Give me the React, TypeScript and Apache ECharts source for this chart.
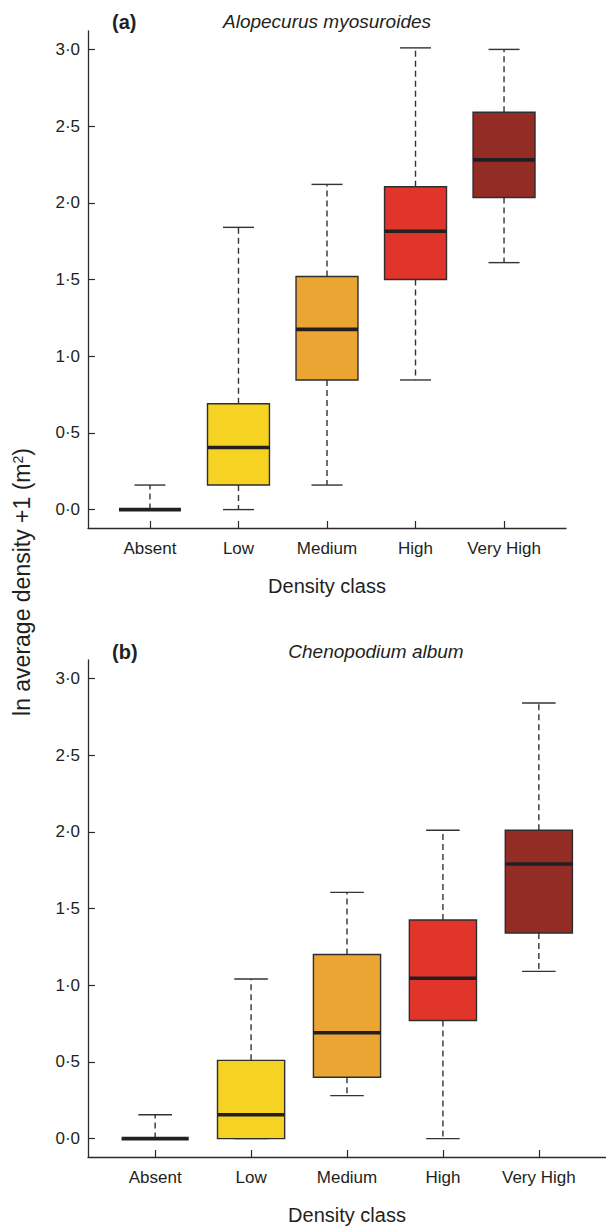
import { useEffect, useRef } from 'react';
import * as echarts from 'echarts';

const categories = ['Absent', 'Low', 'Medium', 'High', 'Very High'];
const positions = [1, 2, 3, 4, 5];
const yTicks = [0, 0.5, 1, 1.5, 2, 2.5, 3];
const boxColors = ['#ffffff', '#F6D322', '#EBA533', '#E1352B', '#932C25'];

// (a) Alopecurus myosuroides
const aMin = [0, 0, 0.16, 0.845, 1.61];
const aQ1 = [0, 0.16, 0.845, 1.5, 2.035];
const aMed = [0, 0.405, 1.175, 1.815, 2.28];
const aQ3 = [0, 0.69, 1.52, 2.105, 2.59];
const aMax = [0.16, 1.84, 2.12, 3.01, 3.0];

// (b) Chenopodium album
const bMin = [0, 0, 0.28, 0, 1.09];
const bQ1 = [0, 0, 0.4, 0.77, 1.34];
const bMed = [0, 0.155, 0.69, 1.045, 1.79];
const bQ3 = [0, 0.51, 1.2, 1.425, 2.01];
const bMax = [0.155, 1.04, 1.605, 2.01, 2.84];

const FONT = 'Liberation Sans, Arial, Helvetica, sans-serif';
const INK = '#231f20';
const LINE = '#333333';

function buildData(mins: number[], q1s: number[], meds: number[], q3s: number[], maxs: number[]) {
  return positions.map((p, i) => [p, mins[i], q1s[i], meds[i], q3s[i], maxs[i]]);
}

const renderBox = (params: any, api: any) => {
  const x = api.value(0);
  const mn = api.value(1);
  const q1 = api.value(2);
  const md = api.value(3);
  const q3 = api.value(4);
  const mx = api.value(5);
  const w = api.size([0.7, 0])[0];
  const cw = w / 2;
  const pMin = api.coord([x, mn]);
  const pQ1 = api.coord([x, q1]);
  const pMed = api.coord([x, md]);
  const pQ3 = api.coord([x, q3]);
  const pMax = api.coord([x, mx]);
  const cx = pMin[0];
  const color = boxColors[params.dataIndex];
  const whisk = { stroke: LINE, lineWidth: 1.4, lineDash: [6, 4] };
  const cap = { stroke: LINE, lineWidth: 1.4 };
  const children: any[] = [];
  if (mx > q3) {
    children.push({ type: 'line', shape: { x1: cx, y1: pQ3[1], x2: cx, y2: pMax[1] }, style: whisk });
  }
  if (mn < q1) {
    children.push({ type: 'line', shape: { x1: cx, y1: pQ1[1], x2: cx, y2: pMin[1] }, style: whisk });
  }
  children.push({ type: 'line', shape: { x1: cx - cw / 2, y1: pMax[1], x2: cx + cw / 2, y2: pMax[1] }, style: cap });
  children.push({ type: 'line', shape: { x1: cx - cw / 2, y1: pMin[1], x2: cx + cw / 2, y2: pMin[1] }, style: cap });
  if (q3 > q1) {
    children.push({
      type: 'rect',
      shape: { x: cx - w / 2, y: pQ3[1], width: w, height: pQ1[1] - pQ3[1] },
      style: { fill: color, stroke: '#2e2e2e', lineWidth: 1.4 },
    });
  }
  children.push({ type: 'line', shape: { x1: cx - w / 2, y1: pMed[1], x2: cx + w / 2, y2: pMed[1] }, style: { stroke: INK, lineWidth: 3.6 } });
  return { type: 'group', children };
};

function xAxisCfg(gridIndex: number) {
  return {
    gridIndex,
    type: 'value',
    min: 0.3,
    max: 5.7,
    splitLine: { show: false },
    axisLine: { show: true, onZero: false, lineStyle: { color: '#2b2b2b', width: 1.3 } },
    axisTick: { show: true, inside: true, length: 7, customValues: positions, lineStyle: { color: '#2b2b2b', width: 1.2 } },
    axisLabel: {
      customValues: positions,
      formatter: (v: number) => categories[Math.round(v) - 1],
      fontSize: 17,
      color: INK,
      fontFamily: FONT,
      margin: 12,
    },
    name: 'Density class',
    nameLocation: 'middle',
    nameGap: 48,
    nameTextStyle: { fontSize: 20, color: INK, fontFamily: FONT },
  };
}

function yAxisCfg(gridIndex: number) {
  return {
    gridIndex,
    type: 'value',
    min: -0.12,
    max: 3.12,
    splitLine: { show: false },
    axisLine: { show: true, onZero: false, lineStyle: { color: '#2b2b2b', width: 1.3 } },
    axisTick: { show: true, inside: true, length: 7, customValues: yTicks, lineStyle: { color: '#2b2b2b', width: 1.2 } },
    axisLabel: {
      customValues: yTicks,
      formatter: (v: number) => v.toFixed(1).replace('.', '\u00B7'),
      fontSize: 17,
      color: INK,
      fontFamily: FONT,
      margin: 8,
    },
  };
}

function txt(text: string, x: number, y: number, size: number, opts: any = {}) {
  return {
    type: 'text',
    x,
    y,
    rotation: opts.rotation || 0,
    style: {
      text,
      x: 0,
      y: 0,
      fill: INK,
      font: `${opts.style || 'normal'} ${opts.weight || 'normal'} ${size}px ${FONT}`,
      fontSize: size,
      fontFamily: FONT,
      fontStyle: opts.style || 'normal',
      fontWeight: opts.weight || 'normal',
      align: opts.align || 'center',
      verticalAlign: 'middle',
      textAlign: opts.align || 'center',
      textVerticalAlign: 'middle',
      rich: opts.rich,
    },
  };
}

export default function App() {
  const ref = useRef<HTMLDivElement>(null);
  useEffect(() => {
    if (!ref.current) return;
    const chart = echarts.init(ref.current, undefined, { renderer: 'svg' });
    chart.setOption({
      animation: false,
      backgroundColor: '#ffffff',
      grid: [
        { left: 88, top: 31, width: 478, height: 497 },
        { left: 88, top: 660, width: 523, height: 497 },
      ],
      xAxis: [xAxisCfg(0), xAxisCfg(1)],
      yAxis: [yAxisCfg(0), yAxisCfg(1)],
      series: [
        {
          type: 'custom',
          name: 'Alopecurus myosuroides',
          xAxisIndex: 0,
          yAxisIndex: 0,
          renderItem: renderBox,
          encode: { x: 0, y: [1, 2, 3, 4, 5] },
          data: buildData(aMin, aQ1, aMed, aQ3, aMax),
        },
        {
          type: 'custom',
          name: 'Chenopodium album',
          xAxisIndex: 1,
          yAxisIndex: 1,
          renderItem: renderBox,
          encode: { x: 0, y: [1, 2, 3, 4, 5] },
          data: buildData(bMin, bQ1, bMed, bQ3, bMax),
        },
      ],
      graphic: [
        txt('(a)', 112, 22, 20, { weight: 'bold', align: 'left' }),
        txt('Alopecurus myosuroides', 327, 21, 19, { style: 'italic' }),
        txt('(b)', 112, 652, 20, { weight: 'bold', align: 'left' }),
        txt('Chenopodium album', 376, 651, 19, { style: 'italic' }),
        txt('ln average density +1 (m{sup|2})', 22, 582, 23, {
          rotation: Math.PI / 2,
          rich: { sup: { fontSize: 14, fontFamily: FONT, fill: INK, verticalAlign: 'top', lineHeight: 14 } },
        }),
      ],
    });
    return () => chart.dispose();
  }, []);
  return <div ref={ref} style={{ position: 'absolute', left: 0, top: 0, width: 606, height: 1228 }} />;
}
